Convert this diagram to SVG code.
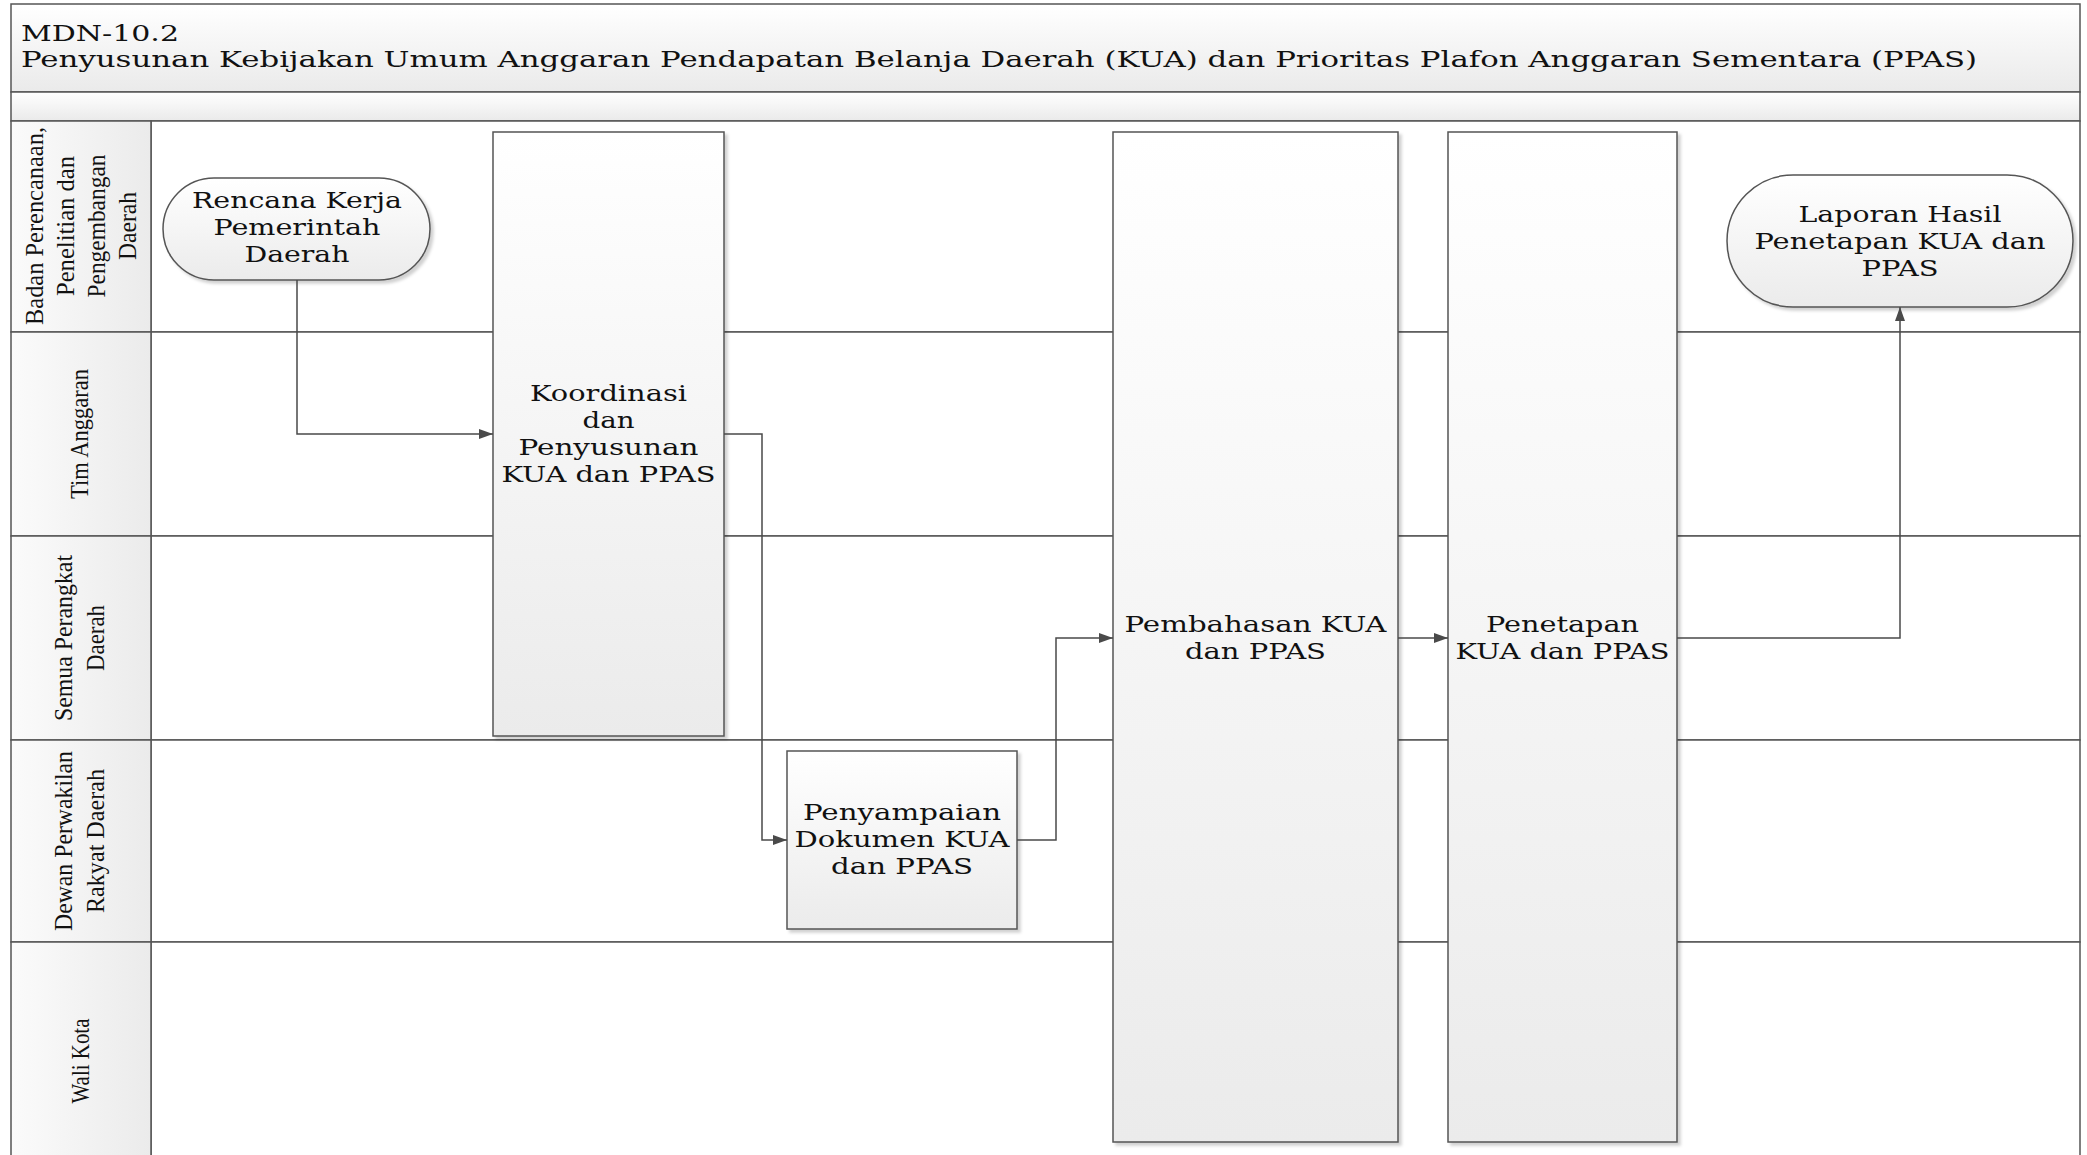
<svg xmlns="http://www.w3.org/2000/svg" width="2087" height="1155" viewBox="0 0 2087 1155">
<defs>
  <linearGradient id="gTitle" x1="0" y1="0" x2="0" y2="1"><stop offset="0" stop-color="#ffffff"/><stop offset="1" stop-color="#eaeaea"/></linearGradient>
  <linearGradient id="gHead" x1="0" y1="0" x2="1" y2="0"><stop offset="0" stop-color="#fbfbfb"/><stop offset="1" stop-color="#ebebeb"/></linearGradient>
  <linearGradient id="gNode" x1="0" y1="0" x2="0" y2="1"><stop offset="0" stop-color="#ffffff"/><stop offset="1" stop-color="#ebebeb"/></linearGradient>
  <filter id="sh" x="-5%" y="-5%" width="115%" height="115%"><feDropShadow dx="3" dy="3" stdDeviation="1.5" flood-color="#000" flood-opacity="0.18"/></filter>
  <marker id="arr" markerUnits="userSpaceOnUse" markerWidth="15" markerHeight="11" refX="14" refY="5.5" orient="auto"><path d="M0,0.5 L14,5.5 L0,10.5 z" fill="#4a4a4a"/></marker>
</defs>
<style>
  .ttl{fill:url(#gTitle);stroke:#555;stroke-width:1.5}
  .lane{fill:#ffffff;stroke:#555;stroke-width:1.5}
  .hd{fill:url(#gHead);stroke:#555;stroke-width:1.5}
  .box{fill:url(#gNode);stroke:#555;stroke-width:1.5;filter:url(#sh)}
  .t{font-family:"DejaVu Serif","Liberation Serif",serif;font-size:23px;fill:#111;text-anchor:middle}
  .tt{font-family:"DejaVu Serif","Liberation Serif",serif;font-size:22px;fill:#111}
  .lt{font-family:"Liberation Serif","DejaVu Serif",serif;font-size:26px;fill:#111;text-anchor:middle}
  .c{fill:none;stroke:#4a4a4a;stroke-width:1.5;marker-end:url(#arr)}
</style>
<rect x="0" y="0" width="2087" height="1155" fill="#ffffff"/>

<g id="title">
  <rect class="ttl" x="11" y="4" width="2069" height="88"/>
  <text class="tt" x="21" y="41" textLength="158" lengthAdjust="spacingAndGlyphs">MDN-10.2</text>
  <text class="tt" x="21" y="67" textLength="1956" lengthAdjust="spacingAndGlyphs">Penyusunan Kebijakan Umum Anggaran Pendapatan Belanja Daerah (KUA) dan Prioritas Plafon Anggaran Sementara (PPAS)</text>
  <rect class="ttl" x="11" y="92" width="2069" height="29"/>
</g>

<g id="lane1">
  <rect class="lane" x="151" y="121" width="1929" height="211"/>
  <rect class="hd" x="11" y="121" width="140" height="211"/>
  <text class="lt" transform="translate(43,226) rotate(-90)" textLength="198" lengthAdjust="spacingAndGlyphs">Badan Perencanaan,</text>
  <text class="lt" transform="translate(74,226) rotate(-90)" textLength="140" lengthAdjust="spacingAndGlyphs">Penelitian dan</text>
  <text class="lt" transform="translate(105,226) rotate(-90)" textLength="143" lengthAdjust="spacingAndGlyphs">Pengembangan</text>
  <text class="lt" transform="translate(136,226) rotate(-90)" textLength="68" lengthAdjust="spacingAndGlyphs">Daerah</text>
</g>
<g id="lane2">
  <rect class="lane" x="151" y="332" width="1929" height="204"/>
  <rect class="hd" x="11" y="332" width="140" height="204"/>
  <text class="lt" transform="translate(88,434) rotate(-90)" textLength="130" lengthAdjust="spacingAndGlyphs">Tim Anggaran</text>
</g>
<g id="lane3">
  <rect class="lane" x="151" y="536" width="1929" height="204"/>
  <rect class="hd" x="11" y="536" width="140" height="204"/>
  <text class="lt" transform="translate(72,638) rotate(-90)" textLength="166" lengthAdjust="spacingAndGlyphs">Semua Perangkat</text>
  <text class="lt" transform="translate(104,638) rotate(-90)" textLength="66" lengthAdjust="spacingAndGlyphs">Daerah</text>
</g>
<g id="lane4">
  <rect class="lane" x="151" y="740" width="1929" height="202"/>
  <rect class="hd" x="11" y="740" width="140" height="202"/>
  <text class="lt" transform="translate(72,841) rotate(-90)" textLength="180" lengthAdjust="spacingAndGlyphs">Dewan Perwakilan</text>
  <text class="lt" transform="translate(104,841) rotate(-90)" textLength="144" lengthAdjust="spacingAndGlyphs">Rakyat Daerah</text>
</g>
<g id="lane5">
  <rect class="lane" x="151" y="942" width="1929" height="240"/>
  <rect class="hd" x="11" y="942" width="140" height="240"/>
  <text class="lt" transform="translate(89,1061) rotate(-90)" textLength="85" lengthAdjust="spacingAndGlyphs">Wali Kota</text>
</g>

<g id="n-rencana">
  <rect class="box" x="163" y="178" width="267" height="102" rx="51" ry="51"/>
  <text class="t" x="297" y="208" textLength="210" lengthAdjust="spacingAndGlyphs">Rencana Kerja</text>
  <text class="t" x="297" y="235" textLength="167" lengthAdjust="spacingAndGlyphs">Pemerintah</text>
  <text class="t" x="297" y="262" textLength="105" lengthAdjust="spacingAndGlyphs">Daerah</text>
</g>
<g id="n-koordinasi">
  <rect class="box" x="493" y="132" width="231" height="604"/>
  <text class="t" x="608.5" y="401" textLength="157" lengthAdjust="spacingAndGlyphs">Koordinasi</text>
  <text class="t" x="608.5" y="428" textLength="52" lengthAdjust="spacingAndGlyphs">dan</text>
  <text class="t" x="608.5" y="455" textLength="180" lengthAdjust="spacingAndGlyphs">Penyusunan</text>
  <text class="t" x="608.5" y="482" textLength="214" lengthAdjust="spacingAndGlyphs">KUA dan PPAS</text>
</g>
<g id="n-penyampaian">
  <rect class="box" x="787" y="751" width="230" height="178"/>
  <text class="t" x="902" y="820" textLength="198" lengthAdjust="spacingAndGlyphs">Penyampaian</text>
  <text class="t" x="902" y="847" textLength="215" lengthAdjust="spacingAndGlyphs">Dokumen KUA</text>
  <text class="t" x="902" y="874" textLength="142" lengthAdjust="spacingAndGlyphs">dan PPAS</text>
</g>
<g id="n-pembahasan">
  <rect class="box" x="1113" y="132" width="285" height="1010"/>
  <text class="t" x="1255.5" y="632" textLength="262" lengthAdjust="spacingAndGlyphs">Pembahasan KUA</text>
  <text class="t" x="1255.5" y="659" textLength="141" lengthAdjust="spacingAndGlyphs">dan PPAS</text>
</g>
<g id="n-penetapan">
  <rect class="box" x="1448" y="132" width="229" height="1010"/>
  <text class="t" x="1562.5" y="632" textLength="153" lengthAdjust="spacingAndGlyphs">Penetapan</text>
  <text class="t" x="1562.5" y="659" textLength="214" lengthAdjust="spacingAndGlyphs">KUA dan PPAS</text>
</g>
<g id="n-laporan">
  <rect class="box" x="1727" y="175" width="346" height="132" rx="66" ry="66"/>
  <text class="t" x="1900" y="222" textLength="203" lengthAdjust="spacingAndGlyphs">Laporan Hasil</text>
  <text class="t" x="1900" y="249" textLength="291" lengthAdjust="spacingAndGlyphs">Penetapan KUA dan</text>
  <text class="t" x="1900" y="276" textLength="77" lengthAdjust="spacingAndGlyphs">PPAS</text>
</g>

<g id="connectors">
  <path class="c" d="M297,280 V434 H493"/>
  <path class="c" d="M724,434 H762 V840 H787"/>
  <path class="c" d="M1017,840 H1056 V638 H1113"/>
  <path class="c" d="M1398,638 H1448"/>
  <path class="c" d="M1677,638 H1900 V307"/>
</g>
</svg>
